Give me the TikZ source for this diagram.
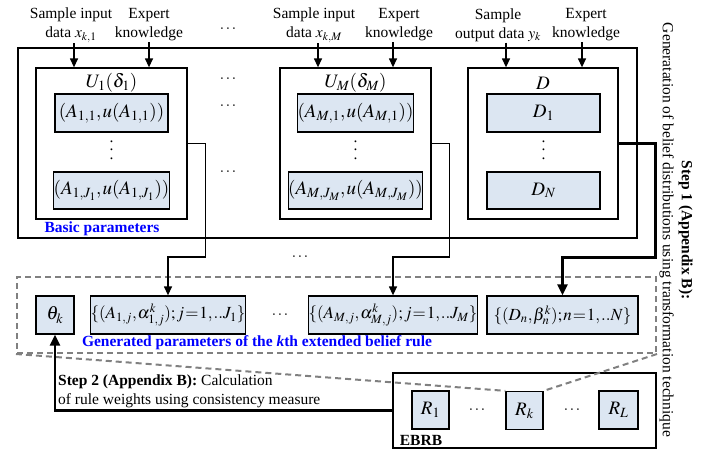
\documentclass[tikz,border=0pt]{standalone}
\usepackage{mathptmx}
\usepackage{fontspec}
\setmainfont{Liberation Serif}
\usepackage{tikz}
\usetikzlibrary{positioning, arrows.meta, calc}
\usepackage{xcolor}
\definecolor{cellblue}{RGB}{220,230,242}
\definecolor{capblue}{RGB}{0,0,255}
\newcommand{\txtsize}{\fontsize{15.5}{19}\selectfont}
\newcommand{\mathbig}{\fontsize{19}{22}\selectfont}
\newcommand{\mathmid}{\fontsize{17}{20}\selectfont}
\newcommand{\tightmath}{\thinmuskip=1mu\medmuskip=0.5mu\thickmuskip=1mu}
\newcommand{\tallvdots}{\vbox{\baselineskip8.5pt\lineskiplimit0pt\hbox{.}\hbox{.}\hbox{.}}}
\tikzset{
	frame/.style={draw, line width=1.3pt, inner sep=0pt},
	cell/.style={frame, fill=cellblue, font=\mathbig, execute at begin node=\tightmath},
	rulecell/.style={cell, font=\mathmid, minimum height=38pt},
	feed/.style={-{Triangle[length=9pt,width=8pt]}, line width=1.3pt},
	heavy/.style={-{Triangle[length=11pt,width=10pt]}, line width=2.6pt},
	zoomline/.style={gray, line width=2pt, dash pattern=on 6pt off 4pt},
	captext/.style={font=\txtsize\bfseries, text=capblue},
	lbl/.style={align=center, inner sep=1pt},
	dots/.style={inner sep=0pt},
}

\begin{document}
\begin{tikzpicture}[x=1pt, y=-1pt, font=\txtsize]
						\useasboundingbox (0,0) rectangle (722,451);
						\node[frame, minimum width=619pt, minimum height=190pt] (basic) at (327.5,143) {};
						\node[frame, minimum width=151pt, minimum height=151pt] (u1) at (111.5,143.5) {};
						\node[frame, minimum width=151pt, minimum height=151pt] (um) at (355.5,143.5) {};
						\node[frame, minimum width=150pt, minimum height=151pt] (dd) at (543,143.5) {};
						\node[font=\mathbig] (u1t) at (111.5,83) {$U_1(\delta_1)$};
						\node[font=\mathbig] (umt) at (355.5,83) {$U_M(\delta_M)$};
						\node[font=\mathbig] (ddt) at (543,83) {$D$};
						\node[cell, minimum width=113pt, minimum height=38pt] (a11) at (111.5,113) {$(A_{1,1},u(A_{1,1}))$};
						\node[cell, minimum width=113pt, minimum height=37pt] (a1J) at (111.5,190.5) {$(A_{1,J_1},u(A_{1,J_1}))$};
						\node[cell, minimum width=113pt, minimum height=38pt] (am1) at (355.5,113) {$(A_{M,1},u(A_{M,1}))$};
						\node[cell, minimum width=113pt, minimum height=37pt] (amJ) at (355.5,190.5) {$(A_{M,J_M},u(A_{M,J_M}))$};
						\node[cell, minimum width=113pt, minimum height=38pt] (d1) at (543.5,113) {$D_1$};
						\node[cell, minimum width=113pt, minimum height=37pt] (dN) at (543.5,190.5) {$D_N$};
						\node[dots] (v1) at (111.5,150) {\tallvdots};
						\node[dots] (vm) at (355.5,150) {\tallvdots};
						\node[dots] (vd) at (543.5,150) {\tallvdots};
						\node[lbl] (smp1) at (71,25) {Sample input\\data $x_{k,1}$};
						\node[lbl] (exp1) at (149,25) {Expert\\knowledge};
						\node[lbl] (smpm) at (314,25) {Sample input\\data $x_{k,M}$};
						\node[lbl] (expm) at (399,25) {Expert\\knowledge};
						\node[lbl] (smpd) at (498,25) {Sample\\output data $y_k$};
						\node[lbl] (expd) at (586,25) {Expert\\knowledge};
						\node[dots] (dtop) at (228,29) {$\cdots$};
						\node[dots] (dlab) at (228,79) {$\cdots$};
						\node[dots] (dcell) at (228,106) {$\cdots$};
						\node[dots] (dcellJ) at (228,172) {$\cdots$};
						\node[dots] (dmid) at (300,257) {$\cdots$};
						\node[captext] (basiccap) at (102,229) {Basic parameters};
						\node[frame, zoomline, minimum width=639pt, minimum height=76pt] (gen) at (336.5,315) {};
						\node[cell, minimum width=38pt, minimum height=38pt] (theta) at (55,315) {$\theta_k$};
						\node[rulecell, minimum width=150pt] (a1j) at (168,315) {$\{(A_{1,j},\alpha^k_{1,j});j=1,..J_1\}$};
						\node[rulecell, minimum width=150pt] (amj) at (393,315) {$\{(A_{M,j},\alpha^k_{M,j});j=1,..J_M\}$};
						\node[rulecell, minimum width=151pt] (dn) at (562.5,315) {$\{(D_n,\beta^k_n);n=1,..N\}$};
						\node[dots] (dgen) at (280,315) {$\cdots$};
						\node[captext] (gencap) at (257,343) {Generated parameters of the \textit{k}th extended belief rule};
						\node[frame, minimum width=263pt, minimum height=75pt] (ebrb) at (524.5,410.5) {};
						\node[cell, minimum width=37pt, minimum height=38pt] (r1) at (430.5,410) {$R_1$};
						\node[cell, minimum width=37pt, minimum height=38pt] (rk) at (524.5,410.5) {$R_k$};
						\node[cell, minimum width=39pt, minimum height=38pt] (rL) at (618.5,410) {$R_L$};
						\node[dots] (dr1) at (477,410) {$\cdots$};
						\node[dots] (dr2) at (572,410) {$\cdots$};
						\node[font=\txtsize\bfseries] (ebrbcap) at (421,440) {EBRB};
						\node[align=left, anchor=west, inner sep=0pt] (step2) at (58,391.5) {\textbf{Step 2 (Appendix B):} Calculation\\of rule weights using consistency measure};
						\node[rotate=-90, align=center, inner sep=0pt] (step1) at (676,230) {\textbf{Step 1 (Appendix B):}\\Generatation of belief distributions using transformation technique};
						\draw[feed] ([xshift=3pt]smp1.south) -- ([xshift=3pt]smp1.south |- u1.north);
						\draw[feed] (exp1.south) -- (exp1.south |- u1.north);
						\draw[feed] ([xshift=4pt]smpm.south) -- ([xshift=4pt]smpm.south |- um.north);
						\draw[feed] ([xshift=-6pt]expm.south) -- ([xshift=-6pt]expm.south |- um.north);
						\draw[feed] ([xshift=8pt]smpd.south) -- ([xshift=8pt]smpd.south |- dd.north);
						\draw[feed] ([xshift=-4pt]expd.south) -- ([xshift=-4pt]expd.south |- dd.north);
						\draw[feed] (u1.east) -- ++(18,0) -- ++(0,113.5) -| (a1j.north);
						\draw[feed] (um.east) -- ++(18,0) -- ++(0,113.5) -| (amj.north);
						\draw[heavy] (dd.east) -- ++(37,0) -- ++(0,114) -| (dn.north);
						\draw[zoomline] (gen.south west) -- (rk.north west);
						\draw[zoomline] (gen.south east) -- (rk.north east);
						\draw[heavy] (ebrb.west) -| (theta.south);
					\end{tikzpicture}
\end{document}
